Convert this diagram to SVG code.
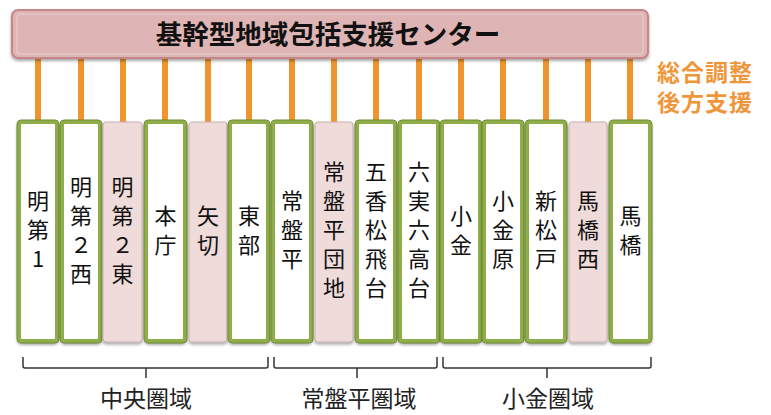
<svg xmlns="http://www.w3.org/2000/svg" width="771" height="415" viewBox="0 0 771 415">
<defs>
<filter id="sh" x="-20%" y="-20%" width="140%" height="140%">
<feDropShadow dx="0" dy="2" stdDeviation="1.5" flood-color="#000" flood-opacity="0.35"/>
</filter>
</defs>
<style>
.g{fill:#ffffff;stroke:#8fae4a;stroke-width:4;}
.ge{fill:none;stroke:#6f8b34;stroke-width:1;}
.p{fill:#efdbd9;stroke:#c5b0b0;stroke-width:1;}
.lbl{font-family:"Noto Sans CJK JP","Noto Sans",sans-serif;font-size:22px;fill:#111;text-anchor:middle;}
.con{stroke:#f0952e;stroke-width:6;}
.br{fill:none;stroke:#333;stroke-width:1.5;}
.area{font-family:"Noto Sans CJK JP","Noto Sans",sans-serif;font-size:23px;fill:#222;text-anchor:middle;}
.org{font-family:"Noto Sans CJK JP","Noto Sans",sans-serif;font-size:23px;font-weight:bold;fill:#f0963a;letter-spacing:1px;}
</style>

<g id="connectors">
<line class="con" x1="38" y1="58" x2="38" y2="121"/>
<line class="con" x1="81" y1="58" x2="81" y2="121"/>
<line class="con" x1="123" y1="58" x2="123" y2="123"/>
<line class="con" x1="165" y1="58" x2="165" y2="121"/>
<line class="con" x1="208" y1="58" x2="208" y2="123"/>
<line class="con" x1="249" y1="58" x2="249" y2="121"/>
<line class="con" x1="292" y1="58" x2="292" y2="121"/>
<line class="con" x1="334" y1="58" x2="334" y2="123"/>
<line class="con" x1="376" y1="58" x2="376" y2="121"/>
<line class="con" x1="419" y1="58" x2="419" y2="121"/>
<line class="con" x1="461" y1="58" x2="461" y2="121"/>
<line class="con" x1="503" y1="58" x2="503" y2="121"/>
<line class="con" x1="546" y1="58" x2="546" y2="121"/>
<line class="con" x1="588" y1="58" x2="588" y2="123"/>
<line class="con" x1="630" y1="58" x2="630" y2="121"/>
</g>

<g id="center">
<rect x="12" y="10" width="636" height="48" rx="6" fill="#deb4b4" stroke="#c48686" stroke-width="2" filter="url(#sh)"/>
<rect x="17" y="14" width="626" height="40" rx="3" fill="none" stroke="#e8c6c6" stroke-width="1.5"/>
<text x="328" y="44" font-family="'Noto Sans CJK JP','Noto Sans',sans-serif" font-size="26.5" font-weight="bold" fill="#111" text-anchor="middle">基幹型地域包括支援センター</text>
</g>

<g id="note">
<text class="org"><tspan x="657" y="81">総合調整</tspan><tspan x="657" y="111">後方支援</tspan></text>
</g>

<g id="n1"><rect class="g" x="19" y="122" width="38" height="219" rx="3" filter="url(#sh)"/><rect class="ge" x="17" y="120" width="42" height="223" rx="4"/>
<text class="lbl"><tspan x="38" y="209">明</tspan><tspan x="38" y="238">第</tspan><tspan x="38" y="267">1</tspan></text></g>
<g id="n2"><rect class="g" x="62" y="122" width="38" height="219" rx="3" filter="url(#sh)"/><rect class="ge" x="60" y="120" width="42" height="223" rx="4"/>
<text class="lbl"><tspan x="81" y="194.5">明</tspan><tspan x="81" y="223.5">第</tspan><tspan x="81" y="252.5">２</tspan><tspan x="81" y="281.5">西</tspan></text></g>
<g id="n3"><rect class="p" x="103" y="122" width="39" height="220" rx="3" filter="url(#sh)"/>
<text class="lbl"><tspan x="122.5" y="194.5">明</tspan><tspan x="122.5" y="223.5">第</tspan><tspan x="122.5" y="252.5">２</tspan><tspan x="122.5" y="281.5">東</tspan></text></g>
<g id="n4"><rect class="g" x="146" y="122" width="39" height="219" rx="3" filter="url(#sh)"/><rect class="ge" x="144" y="120" width="43" height="223" rx="4"/>
<text class="lbl"><tspan x="165.5" y="223.5">本</tspan><tspan x="165.5" y="252.5">庁</tspan></text></g>
<g id="n5"><rect class="p" x="189" y="122" width="38" height="220" rx="3" filter="url(#sh)"/>
<text class="lbl"><tspan x="208" y="223.5">矢</tspan><tspan x="208" y="252.5">切</tspan></text></g>
<g id="n6"><rect class="g" x="230" y="122" width="38" height="219" rx="3" filter="url(#sh)"/><rect class="ge" x="228" y="120" width="42" height="223" rx="4"/>
<text class="lbl"><tspan x="249" y="223.5">東</tspan><tspan x="249" y="252.5">部</tspan></text></g>
<g id="n7"><rect class="g" x="273" y="122" width="38" height="219" rx="3" filter="url(#sh)"/><rect class="ge" x="271" y="120" width="42" height="223" rx="4"/>
<text class="lbl"><tspan x="292" y="209">常</tspan><tspan x="292" y="238">盤</tspan><tspan x="292" y="267">平</tspan></text></g>
<g id="n8"><rect class="p" x="315" y="122" width="38" height="220" rx="3" filter="url(#sh)"/>
<text class="lbl"><tspan x="334" y="180">常</tspan><tspan x="334" y="209">盤</tspan><tspan x="334" y="238">平</tspan><tspan x="334" y="267">団</tspan><tspan x="334" y="296">地</tspan></text></g>
<g id="n9"><rect class="g" x="357" y="122" width="38" height="219" rx="3" filter="url(#sh)"/><rect class="ge" x="355" y="120" width="42" height="223" rx="4"/>
<text class="lbl"><tspan x="376" y="180">五</tspan><tspan x="376" y="209">香</tspan><tspan x="376" y="238">松</tspan><tspan x="376" y="267">飛</tspan><tspan x="376" y="296">台</tspan></text></g>
<g id="n10"><rect class="g" x="400" y="122" width="38" height="219" rx="3" filter="url(#sh)"/><rect class="ge" x="398" y="120" width="42" height="223" rx="4"/>
<text class="lbl"><tspan x="419" y="180">六</tspan><tspan x="419" y="209">実</tspan><tspan x="419" y="238">六</tspan><tspan x="419" y="267">高</tspan><tspan x="419" y="296">台</tspan></text></g>
<g id="n11"><rect class="g" x="442" y="122" width="38" height="219" rx="3" filter="url(#sh)"/><rect class="ge" x="440" y="120" width="42" height="223" rx="4"/>
<text class="lbl"><tspan x="461" y="223.5">小</tspan><tspan x="461" y="252.5">金</tspan></text></g>
<g id="n12"><rect class="g" x="484" y="122" width="38" height="219" rx="3" filter="url(#sh)"/><rect class="ge" x="482" y="120" width="42" height="223" rx="4"/>
<text class="lbl"><tspan x="503" y="209">小</tspan><tspan x="503" y="238">金</tspan><tspan x="503" y="267">原</tspan></text></g>
<g id="n13"><rect class="g" x="527" y="122" width="38" height="219" rx="3" filter="url(#sh)"/><rect class="ge" x="525" y="120" width="42" height="223" rx="4"/>
<text class="lbl"><tspan x="546" y="209">新</tspan><tspan x="546" y="238">松</tspan><tspan x="546" y="267">戸</tspan></text></g>
<g id="n14"><rect class="p" x="569" y="122" width="38" height="220" rx="3" filter="url(#sh)"/>
<text class="lbl"><tspan x="588" y="209">馬</tspan><tspan x="588" y="238">橋</tspan><tspan x="588" y="267">西</tspan></text></g>
<g id="n15"><rect class="g" x="611" y="122" width="39" height="219" rx="3" filter="url(#sh)"/><rect class="ge" x="609" y="120" width="43" height="223" rx="4"/>
<text class="lbl"><tspan x="630.5" y="223.5">馬</tspan><tspan x="630.5" y="252.5">橋</tspan></text></g>

<g id="areas">
<path class="br" d="M23 357 V366 Q23 368 25 368 H266 Q268 368 268 366 V357 M146 368 V378"/>
<path class="br" d="M274 357 V366 Q274 368 276 368 H435 Q437 368 437 366 V357 M357 368 V378"/>
<path class="br" d="M443 357 V366 Q443 368 445 368 H649 Q651 368 651 366 V357 M547 368 V378"/>
<text class="area" x="146" y="407">中央圏域</text>
<text class="area" x="359" y="407">常盤平圏域</text>
<text class="area" x="548" y="407">小金圏域</text>
</g>
</svg>
